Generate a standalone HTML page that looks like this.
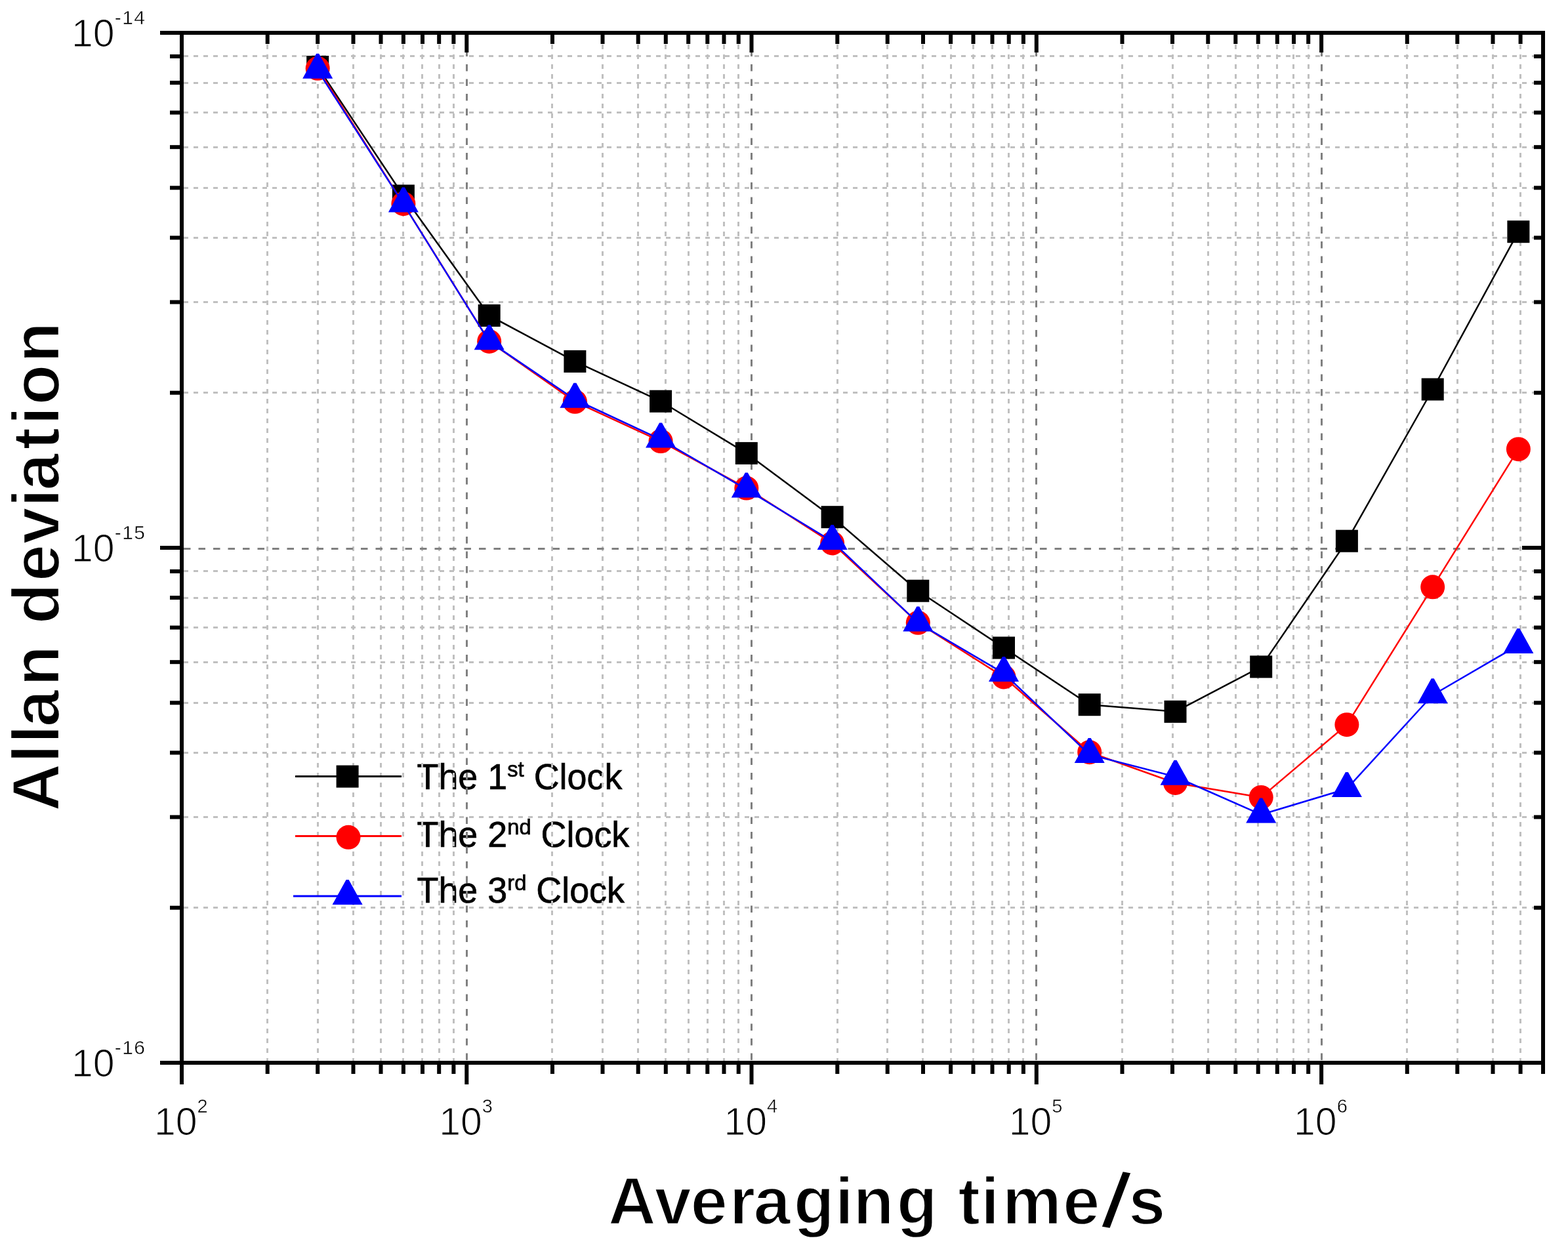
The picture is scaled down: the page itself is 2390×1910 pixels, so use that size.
<!DOCTYPE html><html><head><meta charset="utf-8"><title>Allan deviation</title>
<style>html,body{margin:0;padding:0;background:#fff;overflow:hidden;}svg{display:block;}</style></head><body>
<svg width="2390" height="1910" viewBox="0 0 2390 1910">
<rect width="2390" height="1910" fill="#fff"/>
<g font-family="Liberation Sans, Arial, sans-serif" font-size="56" fill="#000" stroke="#000" stroke-width="0.7">
<text transform="translate(635.5,1203.3) scale(0.962,1)" x="0" y="0">The 1<tspan font-size="34" dy="-19">st</tspan><tspan dy="19"> Clock</tspan></text>
<text transform="translate(635.5,1291.4) scale(0.962,1)" x="0" y="0">The 2<tspan font-size="34" dy="-19">nd</tspan><tspan dy="19"> Clock</tspan></text>
<text transform="translate(635.5,1376.4) scale(0.962,1)" x="0" y="0">The 3<tspan font-size="34" dy="-19">rd</tspan><tspan dy="19"> Clock</tspan></text>
</g>
<g stroke="#c0c0c0" stroke-width="3" stroke-dasharray="7 8" fill="none">
<line x1="407.5" y1="53" x2="407.5" y2="1617"/>
<line x1="484.5" y1="53" x2="484.5" y2="1617"/>
<line x1="538.5" y1="53" x2="538.5" y2="1617"/>
<line x1="580.5" y1="53" x2="580.5" y2="1617"/>
<line x1="614.5" y1="53" x2="614.5" y2="1617"/>
<line x1="643.5" y1="53" x2="643.5" y2="1617"/>
<line x1="669.5" y1="53" x2="669.5" y2="1617"/>
<line x1="691.5" y1="53" x2="691.5" y2="1617"/>
<line x1="841.5" y1="53" x2="841.5" y2="1617"/>
<line x1="918.5" y1="53" x2="918.5" y2="1617"/>
<line x1="972.5" y1="53" x2="972.5" y2="1617"/>
<line x1="1014.5" y1="53" x2="1014.5" y2="1617"/>
<line x1="1049.5" y1="53" x2="1049.5" y2="1617"/>
<line x1="1078.5" y1="53" x2="1078.5" y2="1617"/>
<line x1="1103.5" y1="53" x2="1103.5" y2="1617"/>
<line x1="1125.5" y1="53" x2="1125.5" y2="1617"/>
<line x1="1276.5" y1="53" x2="1276.5" y2="1617"/>
<line x1="1352.5" y1="53" x2="1352.5" y2="1617"/>
<line x1="1406.5" y1="53" x2="1406.5" y2="1617"/>
<line x1="1449.5" y1="53" x2="1449.5" y2="1617"/>
<line x1="1483.5" y1="53" x2="1483.5" y2="1617"/>
<line x1="1512.5" y1="53" x2="1512.5" y2="1617"/>
<line x1="1537.5" y1="53" x2="1537.5" y2="1617"/>
<line x1="1559.5" y1="53" x2="1559.5" y2="1617"/>
<line x1="1710.5" y1="53" x2="1710.5" y2="1617"/>
<line x1="1787.5" y1="53" x2="1787.5" y2="1617"/>
<line x1="1841.5" y1="53" x2="1841.5" y2="1617"/>
<line x1="1883.5" y1="53" x2="1883.5" y2="1617"/>
<line x1="1917.5" y1="53" x2="1917.5" y2="1617"/>
<line x1="1946.5" y1="53" x2="1946.5" y2="1617"/>
<line x1="1971.5" y1="53" x2="1971.5" y2="1617"/>
<line x1="1994.5" y1="53" x2="1994.5" y2="1617"/>
<line x1="2144.5" y1="53" x2="2144.5" y2="1617"/>
<line x1="2221.5" y1="53" x2="2221.5" y2="1617"/>
<line x1="2275.5" y1="53" x2="2275.5" y2="1617"/>
<line x1="2317.5" y1="53" x2="2317.5" y2="1617"/>
<line x1="280" y1="1383.5" x2="2349" y2="1383.5"/>
<line x1="280" y1="1245.5" x2="2349" y2="1245.5"/>
<line x1="280" y1="1147.5" x2="2349" y2="1147.5"/>
<line x1="280" y1="1071.5" x2="2349" y2="1071.5"/>
<line x1="280" y1="1009.5" x2="2349" y2="1009.5"/>
<line x1="280" y1="956.5" x2="2349" y2="956.5"/>
<line x1="280" y1="911.5" x2="2349" y2="911.5"/>
<line x1="280" y1="870.5" x2="2349" y2="870.5"/>
<line x1="280" y1="598.5" x2="2349" y2="598.5"/>
<line x1="280" y1="460.5" x2="2349" y2="460.5"/>
<line x1="280" y1="362.5" x2="2349" y2="362.5"/>
<line x1="280" y1="286.5" x2="2349" y2="286.5"/>
<line x1="280" y1="224.5" x2="2349" y2="224.5"/>
<line x1="280" y1="171.5" x2="2349" y2="171.5"/>
<line x1="280" y1="126.5" x2="2349" y2="126.5"/>
<line x1="280" y1="85.5" x2="2349" y2="85.5"/>
</g>
<g stroke="#808080" stroke-width="3" stroke-dasharray="10.5 12" fill="none">
<line x1="711.5" y1="53" x2="711.5" y2="1617"/>
<line x1="1145.5" y1="53" x2="1145.5" y2="1617"/>
<line x1="1579.5" y1="53" x2="1579.5" y2="1617"/>
<line x1="2014.5" y1="53" x2="2014.5" y2="1617"/>
<line x1="280" y1="836.5" x2="2349" y2="836.5"/>
</g>
<polyline points="484.2,102 614.9,298.5 745.7,481 876.4,550.9 1007.1,611.7 1137.8,690.9 1268.6,788.2 1399.3,900.7 1530,987.5 1660.7,1074.2 1791.5,1084.8 1922.2,1016.4 2052.9,824.7 2183.7,593.5 2314.4,353.2" fill="none" stroke="#000" stroke-width="2.5" stroke-linejoin="round"/>
<rect x="467.2" y="85" width="34" height="34" fill="#000"/>
<rect x="597.9" y="281.5" width="34" height="34" fill="#000"/>
<rect x="728.7" y="464" width="34" height="34" fill="#000"/>
<rect x="859.4" y="533.9" width="34" height="34" fill="#000"/>
<rect x="990.1" y="594.7" width="34" height="34" fill="#000"/>
<rect x="1120.8" y="673.9" width="34" height="34" fill="#000"/>
<rect x="1251.6" y="771.2" width="34" height="34" fill="#000"/>
<rect x="1382.3" y="883.7" width="34" height="34" fill="#000"/>
<rect x="1513" y="970.5" width="34" height="34" fill="#000"/>
<rect x="1643.7" y="1057.2" width="34" height="34" fill="#000"/>
<rect x="1774.5" y="1067.8" width="34" height="34" fill="#000"/>
<rect x="1905.2" y="999.4" width="34" height="34" fill="#000"/>
<rect x="2035.9" y="807.7" width="34" height="34" fill="#000"/>
<rect x="2166.7" y="576.5" width="34" height="34" fill="#000"/>
<rect x="2297.4" y="336.2" width="34" height="34" fill="#000"/>
<polyline points="484.2,104.3 614.9,310.7 745.7,520.5 876.4,612.3 1007.1,672.6 1137.8,744.1 1268.6,828 1399.3,949.3 1530,1032 1660.7,1146.7 1791.5,1193.5 1922.2,1215.4 2052.9,1104.7 2183.7,894.8 2314.4,684.7" fill="none" stroke="#f00" stroke-width="2.5" stroke-linejoin="round"/>
<circle cx="484.2" cy="104.3" r="18.5" fill="#f00"/>
<circle cx="614.9" cy="310.7" r="18.5" fill="#f00"/>
<circle cx="745.7" cy="520.5" r="18.5" fill="#f00"/>
<circle cx="876.4" cy="612.3" r="18.5" fill="#f00"/>
<circle cx="1007.1" cy="672.6" r="18.5" fill="#f00"/>
<circle cx="1137.8" cy="744.1" r="18.5" fill="#f00"/>
<circle cx="1268.6" cy="828" r="18.5" fill="#f00"/>
<circle cx="1399.3" cy="949.3" r="18.5" fill="#f00"/>
<circle cx="1530" cy="1032" r="18.5" fill="#f00"/>
<circle cx="1660.7" cy="1146.7" r="18.5" fill="#f00"/>
<circle cx="1791.5" cy="1193.5" r="18.5" fill="#f00"/>
<circle cx="1922.2" cy="1215.4" r="18.5" fill="#f00"/>
<circle cx="2052.9" cy="1104.7" r="18.5" fill="#f00"/>
<circle cx="2183.7" cy="894.8" r="18.5" fill="#f00"/>
<circle cx="2314.4" cy="684.7" r="18.5" fill="#f00"/>
<polyline points="484.2,107.1 614.9,310.9 745.7,520.6 876.4,609 1007.1,669.9 1137.8,745.9 1268.6,825.3 1399.3,949.7 1530,1026.3 1660.7,1150.3 1791.5,1184 1922.2,1241.7 2052.9,1202.4 2183.7,1059.5 2314.4,983.4" fill="none" stroke="#00f" stroke-width="2.5" stroke-linejoin="round"/>
<polygon points="482.2,81.8 486.2,81.8 507.2,119.8 461.2,119.8" fill="#00f"/>
<polygon points="612.9,285.6 616.9,285.6 637.9,323.6 591.9,323.6" fill="#00f"/>
<polygon points="743.7,495.3 747.7,495.3 768.7,533.3 722.7,533.3" fill="#00f"/>
<polygon points="874.4,583.7 878.4,583.7 899.4,621.7 853.4,621.7" fill="#00f"/>
<polygon points="1005.1,644.6 1009.1,644.6 1030.1,682.6 984.1,682.6" fill="#00f"/>
<polygon points="1135.8,720.6 1139.8,720.6 1160.8,758.6 1114.8,758.6" fill="#00f"/>
<polygon points="1266.6,800 1270.6,800 1291.6,838 1245.6,838" fill="#00f"/>
<polygon points="1397.3,924.4 1401.3,924.4 1422.3,962.4 1376.3,962.4" fill="#00f"/>
<polygon points="1528,1001 1532,1001 1553,1039 1507,1039" fill="#00f"/>
<polygon points="1658.7,1125 1662.7,1125 1683.7,1163 1637.7,1163" fill="#00f"/>
<polygon points="1789.5,1158.7 1793.5,1158.7 1814.5,1196.7 1768.5,1196.7" fill="#00f"/>
<polygon points="1920.2,1216.4 1924.2,1216.4 1945.2,1254.4 1899.2,1254.4" fill="#00f"/>
<polygon points="2050.9,1177.1 2054.9,1177.1 2075.9,1215.1 2029.9,1215.1" fill="#00f"/>
<polygon points="2181.7,1034.2 2185.7,1034.2 2206.7,1072.2 2160.7,1072.2" fill="#00f"/>
<polygon points="2312.4,958.1 2316.4,958.1 2337.4,996.1 2291.4,996.1" fill="#00f"/>
<g fill="#000">
<rect x="244" y="47" width="2111" height="6"/>
<rect x="244" y="1617" width="2111" height="6"/>
<rect x="274" y="47" width="6" height="1606"/>
<rect x="2349" y="47" width="6" height="1590"/>
<rect x="274" y="1620" width="6" height="33"/>
<rect x="274" y="50" width="6" height="30"/>
<rect x="708.3" y="1620" width="6" height="33"/>
<rect x="708.3" y="50" width="6" height="30"/>
<rect x="1142.5" y="1620" width="6" height="33"/>
<rect x="1142.5" y="50" width="6" height="30"/>
<rect x="1576.8" y="1620" width="6" height="33"/>
<rect x="1576.8" y="50" width="6" height="30"/>
<rect x="2011.1" y="1620" width="6" height="33"/>
<rect x="2011.1" y="50" width="6" height="30"/>
<rect x="404.7" y="1620" width="6" height="17"/>
<rect x="404.7" y="50" width="6" height="17"/>
<rect x="481.2" y="1620" width="6" height="17"/>
<rect x="481.2" y="50" width="6" height="17"/>
<rect x="535.5" y="1620" width="6" height="17"/>
<rect x="535.5" y="50" width="6" height="17"/>
<rect x="577.5" y="1620" width="6" height="17"/>
<rect x="577.5" y="50" width="6" height="17"/>
<rect x="611.9" y="1620" width="6" height="17"/>
<rect x="611.9" y="50" width="6" height="17"/>
<rect x="641" y="1620" width="6" height="17"/>
<rect x="641" y="50" width="6" height="17"/>
<rect x="666.2" y="1620" width="6" height="17"/>
<rect x="666.2" y="50" width="6" height="17"/>
<rect x="688.4" y="1620" width="6" height="17"/>
<rect x="688.4" y="50" width="6" height="17"/>
<rect x="839" y="1620" width="6" height="17"/>
<rect x="839" y="50" width="6" height="17"/>
<rect x="915.5" y="1620" width="6" height="17"/>
<rect x="915.5" y="50" width="6" height="17"/>
<rect x="969.7" y="1620" width="6" height="17"/>
<rect x="969.7" y="50" width="6" height="17"/>
<rect x="1011.8" y="1620" width="6" height="17"/>
<rect x="1011.8" y="50" width="6" height="17"/>
<rect x="1046.2" y="1620" width="6" height="17"/>
<rect x="1046.2" y="50" width="6" height="17"/>
<rect x="1075.3" y="1620" width="6" height="17"/>
<rect x="1075.3" y="50" width="6" height="17"/>
<rect x="1100.5" y="1620" width="6" height="17"/>
<rect x="1100.5" y="50" width="6" height="17"/>
<rect x="1122.7" y="1620" width="6" height="17"/>
<rect x="1122.7" y="50" width="6" height="17"/>
<rect x="1273.3" y="1620" width="6" height="17"/>
<rect x="1273.3" y="50" width="6" height="17"/>
<rect x="1349.7" y="1620" width="6" height="17"/>
<rect x="1349.7" y="50" width="6" height="17"/>
<rect x="1404" y="1620" width="6" height="17"/>
<rect x="1404" y="50" width="6" height="17"/>
<rect x="1446.1" y="1620" width="6" height="17"/>
<rect x="1446.1" y="50" width="6" height="17"/>
<rect x="1480.5" y="1620" width="6" height="17"/>
<rect x="1480.5" y="50" width="6" height="17"/>
<rect x="1509.5" y="1620" width="6" height="17"/>
<rect x="1509.5" y="50" width="6" height="17"/>
<rect x="1534.7" y="1620" width="6" height="17"/>
<rect x="1534.7" y="50" width="6" height="17"/>
<rect x="1556.9" y="1620" width="6" height="17"/>
<rect x="1556.9" y="50" width="6" height="17"/>
<rect x="1707.5" y="1620" width="6" height="17"/>
<rect x="1707.5" y="50" width="6" height="17"/>
<rect x="1784" y="1620" width="6" height="17"/>
<rect x="1784" y="50" width="6" height="17"/>
<rect x="1838.3" y="1620" width="6" height="17"/>
<rect x="1838.3" y="50" width="6" height="17"/>
<rect x="1880.3" y="1620" width="6" height="17"/>
<rect x="1880.3" y="50" width="6" height="17"/>
<rect x="1914.7" y="1620" width="6" height="17"/>
<rect x="1914.7" y="50" width="6" height="17"/>
<rect x="1943.8" y="1620" width="6" height="17"/>
<rect x="1943.8" y="50" width="6" height="17"/>
<rect x="1969" y="1620" width="6" height="17"/>
<rect x="1969" y="50" width="6" height="17"/>
<rect x="1991.2" y="1620" width="6" height="17"/>
<rect x="1991.2" y="50" width="6" height="17"/>
<rect x="2141.8" y="1620" width="6" height="17"/>
<rect x="2141.8" y="50" width="6" height="17"/>
<rect x="2218.3" y="1620" width="6" height="17"/>
<rect x="2218.3" y="50" width="6" height="17"/>
<rect x="2272.5" y="1620" width="6" height="17"/>
<rect x="2272.5" y="50" width="6" height="17"/>
<rect x="2314.6" y="1620" width="6" height="17"/>
<rect x="2314.6" y="50" width="6" height="17"/>
<rect x="2349" y="1620" width="6" height="17"/>
<rect x="2349" y="50" width="6" height="17"/>
<rect x="244" y="47" width="33" height="6"/>
<rect x="2320" y="47" width="32" height="6"/>
<rect x="244" y="832" width="33" height="6"/>
<rect x="2320" y="832" width="32" height="6"/>
<rect x="244" y="1617" width="33" height="6"/>
<rect x="2320" y="1617" width="32" height="6"/>
<rect x="259" y="1380.7" width="18" height="6"/>
<rect x="2338" y="1380.7" width="14" height="6"/>
<rect x="259" y="1242.5" width="18" height="6"/>
<rect x="2338" y="1242.5" width="14" height="6"/>
<rect x="259" y="1144.4" width="18" height="6"/>
<rect x="2338" y="1144.4" width="14" height="6"/>
<rect x="259" y="1068.3" width="18" height="6"/>
<rect x="2338" y="1068.3" width="14" height="6"/>
<rect x="259" y="1006.2" width="18" height="6"/>
<rect x="2338" y="1006.2" width="14" height="6"/>
<rect x="259" y="953.6" width="18" height="6"/>
<rect x="2338" y="953.6" width="14" height="6"/>
<rect x="259" y="908.1" width="18" height="6"/>
<rect x="2338" y="908.1" width="14" height="6"/>
<rect x="259" y="867.9" width="18" height="6"/>
<rect x="2338" y="867.9" width="14" height="6"/>
<rect x="259" y="595.7" width="18" height="6"/>
<rect x="2338" y="595.7" width="14" height="6"/>
<rect x="259" y="457.5" width="18" height="6"/>
<rect x="2338" y="457.5" width="14" height="6"/>
<rect x="259" y="359.4" width="18" height="6"/>
<rect x="2338" y="359.4" width="14" height="6"/>
<rect x="259" y="283.3" width="18" height="6"/>
<rect x="2338" y="283.3" width="14" height="6"/>
<rect x="259" y="221.2" width="18" height="6"/>
<rect x="2338" y="221.2" width="14" height="6"/>
<rect x="259" y="168.6" width="18" height="6"/>
<rect x="2338" y="168.6" width="14" height="6"/>
<rect x="259" y="123.1" width="18" height="6"/>
<rect x="2338" y="123.1" width="14" height="6"/>
<rect x="259" y="82.9" width="18" height="6"/>
<rect x="2338" y="82.9" width="14" height="6"/>
</g>
<g font-family="Liberation Sans, Arial, sans-serif" fill="#000" stroke="#fff" stroke-width="1.2">
<text x="275.8" y="1729.5" font-size="59" text-anchor="middle">10<tspan font-size="29" dy="-34" stroke-width="0.5">2</tspan></text>
<text x="710.1" y="1729.5" font-size="59" text-anchor="middle">10<tspan font-size="29" dy="-34" stroke-width="0.5">3</tspan></text>
<text x="1144.3" y="1729.5" font-size="59" text-anchor="middle">10<tspan font-size="29" dy="-34" stroke-width="0.5">4</tspan></text>
<text x="1578.6" y="1729.5" font-size="59" text-anchor="middle">10<tspan font-size="29" dy="-34" stroke-width="0.5">5</tspan></text>
<text x="2012.9" y="1729.5" font-size="59" text-anchor="middle">10<tspan font-size="29" dy="-34" stroke-width="0.5">6</tspan></text>
<text x="109" y="70.9" font-size="59">10<tspan font-size="30" dy="-33.5" letter-spacing="1.5" stroke-width="0.5">-14</tspan></text>
<text x="109" y="855.9" font-size="59">10<tspan font-size="30" dy="-33.5" letter-spacing="1.5" stroke-width="0.5">-15</tspan></text>
<text x="109" y="1640.9" font-size="59">10<tspan font-size="30" dy="-33.5" letter-spacing="1.5" stroke-width="0.5">-16</tspan></text>
</g>
<g font-family="Liberation Sans, Arial, sans-serif" font-weight="bold" font-size="101.5" fill="#000" stroke="#fff" stroke-width="2.4">
<text id="xt" x="926.7 997.5 1052.5 1111.7 1148.6 1209.7 1272.8 1300.5 1366.8 1437.9 1460.2 1495.1 1527.7 1620 1687.6 1720" y="1866" letter-spacing="0">Averaging time<tspan id="sl" rotate="10" font-size="121" dx="-10" dy="2">/</tspan><tspan id="ss" dy="-2">s</tspan></text>
<text id="yt" transform="translate(90.4,1239) rotate(-90)" x="2 76 105.8 130.7 193 258.4 287.7 352.8 409.5 466.1 491.3 553.6 591.2 621.4 686.1" y="0" letter-spacing="0">Allan deviation</text>
</g>
<line x1="450" y1="1183.5" x2="612" y2="1183.5" stroke="#000" stroke-width="3"/>
<rect x="512.6" y="1166.6" width="34" height="34" fill="#000"/>
<line x1="450" y1="1274.5" x2="612" y2="1274.5" stroke="#f00" stroke-width="3"/>
<circle cx="531" cy="1276.3" r="18.5" fill="#f00"/>
<line x1="447" y1="1366" x2="612" y2="1366" stroke="#00f" stroke-width="3"/>
<polygon points="527.6,1341 531.6,1341 552.6,1379 506.6,1379" fill="#00f"/>
</svg></body></html>
